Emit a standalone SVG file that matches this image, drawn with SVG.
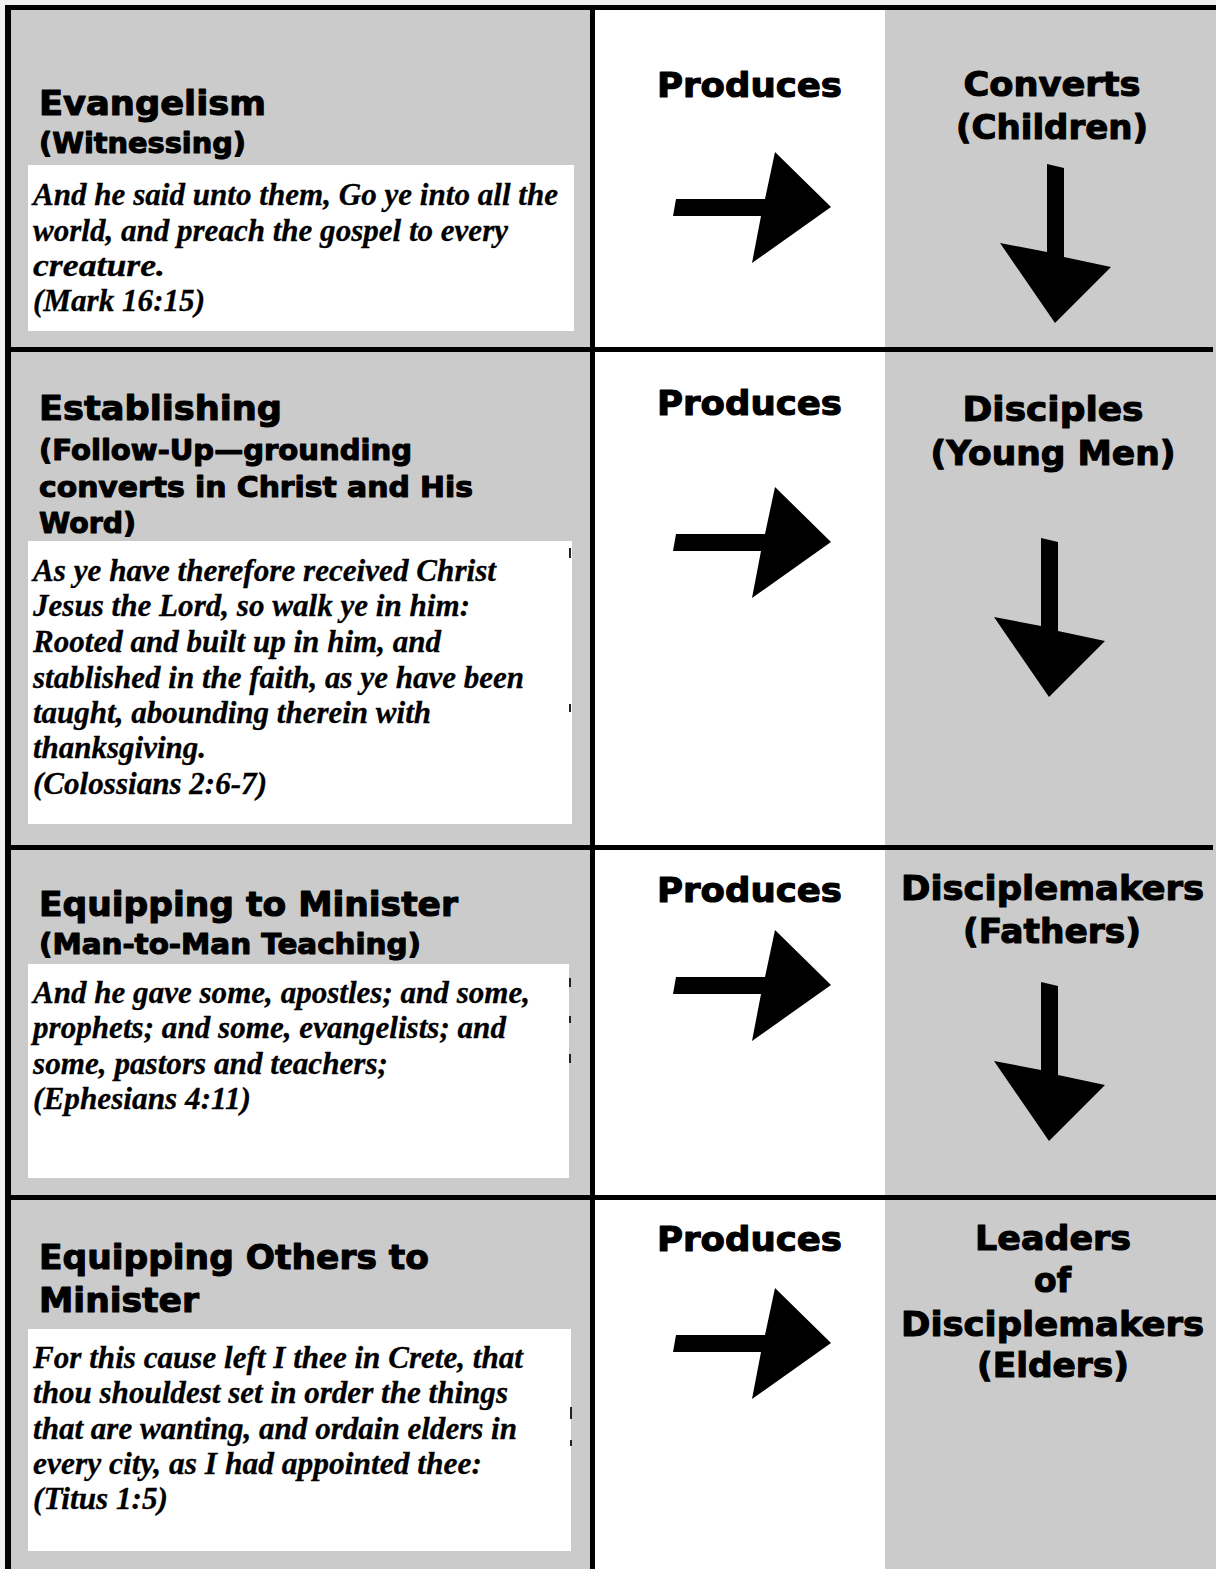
<svg xmlns="http://www.w3.org/2000/svg" xmlns:xlink="http://www.w3.org/1999/xlink" width="1216" height="1569" viewBox="0 0 1216 1569">
<style>
.h{font-family:"DejaVu Sans","Liberation Sans",sans-serif;font-weight:bold;fill:#000;stroke:#000;stroke-width:1.1;stroke-linejoin:round}
.h1{font-size:34px}
.h2{font-size:28px}
.r{font-size:34px;text-anchor:middle}
.v{font-family:"Liberation Serif",serif;font-weight:bold;font-style:italic;font-size:32px;fill:#000;stroke:#000;stroke-width:0.3}
.gray{fill:#cbcbcb}
.box{fill:#fff}
.line{fill:#000}
.arr{fill:#000}
.mark{fill:#222}
</style>
<defs>
<path id="rarrow" d="M676,199 L765,199 L775,152 L831,207 L752,263 L761,216 L673,216 Z"/>
<path id="darrow" d="M1047,164 L1064,168 L1064,257 L1111,267 L1055,323 L1000,243 L1047,252 Z"/>
</defs>
<rect x="0" y="0" width="1216" height="1569" fill="#f0f0f0"/>
<g id="grid">
<rect class="gray" x="11" y="10" width="579" height="1559"/>
<rect x="595" y="10" width="290" height="1559" fill="#fff"/>
<rect class="gray" x="885" y="10" width="331" height="1559"/>
<rect class="line" x="5" y="5" width="1211" height="5"/>
<rect class="line" x="5" y="5" width="6" height="1564"/>
<rect class="line" x="590" y="5" width="5" height="1564"/>
<rect class="line" x="5" y="347" width="1208" height="5"/>
<rect class="line" x="5" y="845" width="1208" height="5"/>
<rect class="line" x="5" y="1195" width="1211" height="5"/>
</g>

<g id="row1-activity">
<text class="h h1" x="39" y="115" textLength="227" lengthAdjust="spacingAndGlyphs">Evangelism</text>
<text class="h h2" x="39" y="153" textLength="207" lengthAdjust="spacingAndGlyphs">(Witnessing)</text>
<rect class="box" x="28" y="165" width="546" height="166"/>
<text class="v" x="33" y="205" textLength="525" lengthAdjust="spacingAndGlyphs">And he said unto them, Go ye into all the</text>
<text class="v" x="33" y="241" textLength="475" lengthAdjust="spacingAndGlyphs">world, and preach the gospel to every</text>
<text class="v" x="33" y="276" textLength="132" lengthAdjust="spacingAndGlyphs">creature.</text>
<text class="v" x="33" y="311" textLength="172" lengthAdjust="spacingAndGlyphs">(Mark 16:15)</text>
</g>

<g id="row2-activity">
<text class="h h1" x="39" y="420" textLength="243" lengthAdjust="spacingAndGlyphs">Establishing</text>
<text class="h h2" x="39" y="460" textLength="373" lengthAdjust="spacingAndGlyphs">(Follow-Up—grounding</text>
<text class="h h2" x="39" y="497" textLength="434" lengthAdjust="spacingAndGlyphs">converts in Christ and His</text>
<text class="h h2" x="39" y="533" textLength="97" lengthAdjust="spacingAndGlyphs">Word)</text>
<rect class="box" x="28" y="541" width="544" height="283"/>
<text class="v" x="33" y="581" textLength="463" lengthAdjust="spacingAndGlyphs">As ye have therefore received Christ</text>
<text class="v" x="33" y="616" textLength="437" lengthAdjust="spacingAndGlyphs">Jesus the Lord, so walk ye in him:</text>
<text class="v" x="33" y="652" textLength="408" lengthAdjust="spacingAndGlyphs">Rooted and built up in him, and</text>
<text class="v" x="33" y="688" textLength="491" lengthAdjust="spacingAndGlyphs">stablished in the faith, as ye have been</text>
<text class="v" x="33" y="723" textLength="398" lengthAdjust="spacingAndGlyphs">taught, abounding therein with</text>
<text class="v" x="33" y="758" textLength="173" lengthAdjust="spacingAndGlyphs">thanksgiving.</text>
<text class="v" x="33" y="794" textLength="234" lengthAdjust="spacingAndGlyphs">(Colossians 2:6-7)</text>
</g>

<g id="row3-activity">
<text class="h h1" x="39" y="916" textLength="419" lengthAdjust="spacingAndGlyphs">Equipping to Minister</text>
<text class="h h2" x="39" y="954" textLength="382" lengthAdjust="spacingAndGlyphs">(Man-to-Man Teaching)</text>
<rect class="box" x="28" y="964" width="541" height="214"/>
<text class="v" x="33" y="1003" textLength="497" lengthAdjust="spacingAndGlyphs">And he gave some, apostles; and some,</text>
<text class="v" x="33" y="1038" textLength="473" lengthAdjust="spacingAndGlyphs">prophets; and some, evangelists; and</text>
<text class="v" x="33" y="1074" textLength="355" lengthAdjust="spacingAndGlyphs">some, pastors and teachers;</text>
<text class="v" x="33" y="1109" textLength="218" lengthAdjust="spacingAndGlyphs">(Ephesians 4:11)</text>
</g>

<g id="row4-activity">
<text class="h h1" x="39" y="1269" textLength="390" lengthAdjust="spacingAndGlyphs">Equipping Others to</text>
<text class="h h1" x="39" y="1312" textLength="160" lengthAdjust="spacingAndGlyphs">Minister</text>
<rect class="box" x="28" y="1329" width="543" height="222"/>
<text class="v" x="33" y="1368" textLength="490" lengthAdjust="spacingAndGlyphs">For this cause left I thee in Crete, that</text>
<text class="v" x="33" y="1403" textLength="475" lengthAdjust="spacingAndGlyphs">thou shouldest set in order the things</text>
<text class="v" x="33" y="1439" textLength="484" lengthAdjust="spacingAndGlyphs">that are wanting, and ordain elders in</text>
<text class="v" x="33" y="1474" textLength="449" lengthAdjust="spacingAndGlyphs">every city, as I had appointed thee:</text>
<text class="v" x="33" y="1509" textLength="135" lengthAdjust="spacingAndGlyphs">(Titus 1:5)</text>
</g>

<g id="edge-marks">
<rect class="mark" x="569" y="548" width="2" height="10"/>
<rect class="mark" x="569" y="704" width="2" height="8"/>
<rect class="mark" x="569" y="978" width="2" height="9"/>
<rect class="mark" x="569" y="1016" width="2" height="7"/>
<rect class="mark" x="569" y="1054" width="2" height="9"/>
<rect class="mark" x="570" y="1407" width="2" height="12"/>
<rect class="mark" x="570" y="1440" width="2" height="6"/>
</g>

<g id="produces">
<text class="h r" x="749.5" y="97" textLength="185" lengthAdjust="spacingAndGlyphs">Produces</text>
<text class="h r" x="749.5" y="415" textLength="185" lengthAdjust="spacingAndGlyphs">Produces</text>
<text class="h r" x="749.5" y="902" textLength="185" lengthAdjust="spacingAndGlyphs">Produces</text>
<text class="h r" x="749.5" y="1251" textLength="185" lengthAdjust="spacingAndGlyphs">Produces</text>
</g>

<g id="result-converts">
<text class="h r" x="1052" y="96" textLength="177" lengthAdjust="spacingAndGlyphs">Converts</text>
<text class="h r" x="1052" y="139" textLength="192" lengthAdjust="spacingAndGlyphs">(Children)</text>
</g>
<g id="result-disciples">
<text class="h r" x="1053" y="421" textLength="181" lengthAdjust="spacingAndGlyphs">Disciples</text>
<text class="h r" x="1053" y="465" textLength="245" lengthAdjust="spacingAndGlyphs">(Young  Men)</text>
</g>
<g id="result-disciplemakers">
<text class="h r" x="1052.5" y="900" textLength="303" lengthAdjust="spacingAndGlyphs">Disciplemakers</text>
<text class="h r" x="1052" y="943" textLength="178" lengthAdjust="spacingAndGlyphs">(Fathers)</text>
</g>
<g id="result-leaders">
<text class="h r" x="1053" y="1250" textLength="156" lengthAdjust="spacingAndGlyphs">Leaders</text>
<text class="h r" x="1052.5" y="1292" textLength="37" lengthAdjust="spacingAndGlyphs">of</text>
<text class="h r" x="1052.5" y="1336" textLength="303" lengthAdjust="spacingAndGlyphs">Disciplemakers</text>
<text class="h r" x="1053" y="1377" textLength="152" lengthAdjust="spacingAndGlyphs">(Elders)</text>
</g>

<g id="connectors">
<use xlink:href="#rarrow" class="arr"/>
<use xlink:href="#rarrow" class="arr" transform="translate(0,335)"/>
<use xlink:href="#rarrow" class="arr" transform="translate(0,778)"/>
<use xlink:href="#rarrow" class="arr" transform="translate(0,1136)"/>
<use xlink:href="#darrow" class="arr"/>
<use xlink:href="#darrow" class="arr" transform="translate(-6,374)"/>
<use xlink:href="#darrow" class="arr" transform="translate(-6,818)"/>
</g>
</svg>
